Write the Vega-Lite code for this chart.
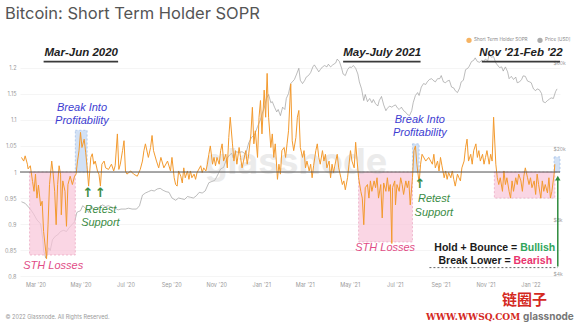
{
"$schema":"https://vega.github.io/schema/vega-lite/v6.json",
"width":540,"height":227,"autosize":"none",
"padding":{"left":20,"top":52,"right":25,"bottom":47},
"background":"white",
"title":{"text":"Bitcoin: Short Term Holder SOPR","anchor":"start","frame":"group","dx":-15,"offset":15,"fontSize":16.5,"font":"Inter","fontWeight":"normal","color":"#555555"},
"config":{"view":{"stroke":null},"font":"Inter"},
"datasets":{
"sopr":[
{"t":"2020-02-11","v":1.028},{"t":"2020-02-14","v":1.021},{"t":"2020-02-16","v":1.031},{"t":"2020-02-19","v":1.015},{"t":"2020-02-20","v":1.006},{"t":"2020-02-23","v":1.012},{"t":"2020-02-26","v":0.982},{"t":"2020-02-28","v":0.963},{"t":"2020-03-01","v":0.996},{"t":"2020-03-03","v":0.95},{"t":"2020-03-05","v":0.975},{"t":"2020-03-08","v":0.935},{"t":"2020-03-10","v":0.944},{"t":"2020-03-12","v":0.886},{"t":"2020-03-15","v":0.847},{"t":"2020-03-16","v":0.834},{"t":"2020-03-18","v":0.899},{"t":"2020-03-20","v":0.976},{"t":"2020-03-23","v":1.021},{"t":"2020-03-25","v":0.996},{"t":"2020-03-27","v":0.963},{"t":"2020-03-29","v":0.899},{"t":"2020-03-31","v":0.976},{"t":"2020-04-02","v":1.012},{"t":"2020-04-04","v":0.996},{"t":"2020-04-05","v":0.918},{"t":"2020-04-07","v":0.983},{"t":"2020-04-10","v":0.963},{"t":"2020-04-12","v":0.896},{"t":"2020-04-14","v":0.976},{"t":"2020-04-17","v":0.992},{"t":"2020-04-20","v":0.976},{"t":"2020-04-23","v":0.992},{"t":"2020-04-25","v":0.996},{"t":"2020-04-27","v":1.021},{"t":"2020-04-29","v":1.041},{"t":"2020-05-01","v":1.076},{"t":"2020-05-03","v":1.047},{"t":"2020-05-06","v":1.063},{"t":"2020-05-08","v":1.038},{"t":"2020-05-10","v":1.009},{"t":"2020-05-12","v":0.973},{"t":"2020-05-15","v":1.028},{"t":"2020-05-17","v":1.035},{"t":"2020-05-19","v":1.015},{"t":"2020-05-21","v":1.021},{"t":"2020-05-24","v":1.002},{"t":"2020-05-26","v":0.996},{"t":"2020-05-28","v":0.973},{"t":"2020-05-30","v":1.015},{"t":"2020-06-02","v":1.021},{"t":"2020-06-04","v":1.008},{"t":"2020-06-08","v":1.005},{"t":"2020-06-12","v":1.015},{"t":"2020-06-15","v":1.002},{"t":"2020-06-17","v":1.012},{"t":"2020-06-20","v":1.073},{"t":"2020-06-22","v":1.005},{"t":"2020-06-24","v":1.015},{"t":"2020-06-27","v":1.041},{"t":"2020-06-29","v":1.06},{"t":"2020-07-01","v":1.002},{"t":"2020-07-03","v":0.996},{"t":"2020-07-08","v":1.002},{"t":"2020-07-12","v":0.996},{"t":"2020-07-17","v":0.992},{"t":"2020-07-21","v":1.005},{"t":"2020-07-24","v":1.021},{"t":"2020-07-26","v":1.041},{"t":"2020-07-28","v":1.054},{"t":"2020-08-01","v":1.028},{"t":"2020-08-04","v":1.047},{"t":"2020-08-06","v":1.07},{"t":"2020-08-08","v":1.041},{"t":"2020-08-12","v":1.021},{"t":"2020-08-15","v":1.008},{"t":"2020-08-18","v":1.028},{"t":"2020-08-22","v":1.008},{"t":"2020-08-27","v":1.021},{"t":"2020-08-31","v":1.002},{"t":"2020-09-02","v":1.028},{"t":"2020-09-05","v":0.989},{"t":"2020-09-07","v":0.976},{"t":"2020-09-09","v":0.973},{"t":"2020-09-11","v":1.002},{"t":"2020-09-14","v":0.992},{"t":"2020-09-16","v":0.979},{"t":"2020-09-18","v":1.008},{"t":"2020-09-20","v":0.989},{"t":"2020-09-23","v":1.002},{"t":"2020-09-25","v":0.986},{"t":"2020-09-27","v":1.002},{"t":"2020-09-29","v":0.989},{"t":"2020-10-02","v":0.996},{"t":"2020-10-04","v":0.986},{"t":"2020-10-06","v":0.999},{"t":"2020-10-11","v":1.012},{"t":"2020-10-13","v":0.999},{"t":"2020-10-15","v":1.008},{"t":"2020-10-18","v":1.002},{"t":"2020-10-20","v":1.015},{"t":"2020-10-22","v":1.034},{"t":"2020-10-24","v":1.05},{"t":"2020-10-27","v":1.015},{"t":"2020-10-29","v":1.028},{"t":"2020-10-31","v":1.012},{"t":"2020-11-02","v":1.028},{"t":"2020-11-05","v":1.015},{"t":"2020-11-07","v":1.041},{"t":"2020-11-09","v":1.054},{"t":"2020-11-11","v":1.021},{"t":"2020-11-14","v":1.034},{"t":"2020-11-16","v":1.008},{"t":"2020-11-18","v":1.066},{"t":"2020-11-20","v":1.105},{"t":"2020-11-23","v":1.054},{"t":"2020-11-25","v":1.021},{"t":"2020-11-27","v":1.041},{"t":"2020-11-29","v":1.015},{"t":"2020-12-02","v":1.047},{"t":"2020-12-04","v":1.028},{"t":"2020-12-06","v":1.008},{"t":"2020-12-08","v":1.021},{"t":"2020-12-11","v":1.041},{"t":"2020-12-13","v":1.015},{"t":"2020-12-15","v":1.034},{"t":"2020-12-18","v":1.073},{"t":"2020-12-20","v":1.124},{"t":"2020-12-22","v":1.054},{"t":"2020-12-24","v":1.079},{"t":"2020-12-27","v":1.028},{"t":"2020-12-29","v":1.105},{"t":"2020-12-31","v":1.137},{"t":"2021-01-02","v":1.073},{"t":"2021-01-05","v":1.157},{"t":"2021-01-07","v":1.105},{"t":"2021-01-09","v":1.189},{"t":"2021-01-11","v":1.105},{"t":"2021-01-14","v":1.047},{"t":"2021-01-16","v":1.073},{"t":"2021-01-18","v":1.028},{"t":"2021-01-20","v":1.054},{"t":"2021-01-23","v":0.986},{"t":"2021-01-25","v":1.015},{"t":"2021-01-27","v":0.996},{"t":"2021-01-29","v":1.041},{"t":"2021-02-01","v":1.047},{"t":"2021-02-03","v":1.028},{"t":"2021-02-05","v":1.054},{"t":"2021-02-07","v":1.079},{"t":"2021-02-10","v":1.169},{"t":"2021-02-12","v":1.06},{"t":"2021-02-14","v":1.041},{"t":"2021-02-17","v":1.066},{"t":"2021-02-19","v":1.105},{"t":"2021-02-21","v":1.118},{"t":"2021-02-23","v":1.047},{"t":"2021-02-26","v":1.028},{"t":"2021-02-28","v":1.041},{"t":"2021-03-02","v":1.008},{"t":"2021-03-04","v":1.021},{"t":"2021-03-07","v":1.002},{"t":"2021-03-09","v":1.015},{"t":"2021-03-11","v":0.989},{"t":"2021-03-13","v":1.012},{"t":"2021-03-16","v":1.041},{"t":"2021-03-18","v":1.054},{"t":"2021-03-20","v":1.028},{"t":"2021-03-22","v":1.015},{"t":"2021-03-25","v":1.041},{"t":"2021-03-27","v":1.021},{"t":"2021-03-29","v":1.034},{"t":"2021-03-31","v":1.008},{"t":"2021-04-03","v":1.021},{"t":"2021-04-05","v":0.989},{"t":"2021-04-07","v":1.015},{"t":"2021-04-09","v":0.999},{"t":"2021-04-12","v":1.021},{"t":"2021-04-14","v":1.034},{"t":"2021-04-16","v":1.008},{"t":"2021-04-19","v":0.989},{"t":"2021-04-21","v":0.976},{"t":"2021-04-23","v":0.983},{"t":"2021-04-25","v":0.966},{"t":"2021-04-28","v":0.989},{"t":"2021-04-30","v":1.015},{"t":"2021-05-02","v":1.041},{"t":"2021-05-04","v":1.021},{"t":"2021-05-07","v":1.008},{"t":"2021-05-09","v":1.057},{"t":"2021-05-11","v":1.021},{"t":"2021-05-13","v":0.989},{"t":"2021-05-16","v":0.963},{"t":"2021-05-18","v":0.95},{"t":"2021-05-20","v":0.899},{"t":"2021-05-22","v":0.97},{"t":"2021-05-25","v":0.976},{"t":"2021-05-27","v":0.95},{"t":"2021-05-29","v":0.983},{"t":"2021-05-31","v":0.963},{"t":"2021-06-03","v":0.983},{"t":"2021-06-05","v":0.97},{"t":"2021-06-07","v":0.989},{"t":"2021-06-09","v":0.95},{"t":"2021-06-12","v":0.976},{"t":"2021-06-14","v":0.912},{"t":"2021-06-16","v":0.979},{"t":"2021-06-19","v":0.963},{"t":"2021-06-21","v":0.989},{"t":"2021-06-23","v":0.963},{"t":"2021-06-25","v":0.976},{"t":"2021-06-27","v":0.863},{"t":"2021-06-28","v":0.97},{"t":"2021-07-01","v":0.983},{"t":"2021-07-02","v":0.937},{"t":"2021-07-04","v":0.976},{"t":"2021-07-07","v":0.963},{"t":"2021-07-09","v":0.989},{"t":"2021-07-11","v":0.976},{"t":"2021-07-13","v":0.957},{"t":"2021-07-16","v":0.983},{"t":"2021-07-18","v":0.97},{"t":"2021-07-20","v":0.983},{"t":"2021-07-22","v":0.937},{"t":"2021-07-25","v":0.989},{"t":"2021-07-27","v":1.041},{"t":"2021-07-29","v":1.05},{"t":"2021-07-31","v":1.015},{"t":"2021-08-03","v":0.979},{"t":"2021-08-05","v":1.015},{"t":"2021-08-07","v":1.034},{"t":"2021-08-12","v":1.021},{"t":"2021-08-16","v":1.028},{"t":"2021-08-21","v":1.015},{"t":"2021-08-23","v":1.034},{"t":"2021-08-25","v":1.008},{"t":"2021-08-28","v":1.021},{"t":"2021-08-30","v":1.002},{"t":"2021-09-01","v":1.028},{"t":"2021-09-03","v":1.012},{"t":"2021-09-06","v":0.989},{"t":"2021-09-08","v":1.002},{"t":"2021-09-10","v":0.986},{"t":"2021-09-12","v":0.999},{"t":"2021-09-15","v":0.989},{"t":"2021-09-17","v":1.002},{"t":"2021-09-19","v":0.986},{"t":"2021-09-21","v":0.973},{"t":"2021-09-24","v":0.996},{"t":"2021-09-26","v":0.989},{"t":"2021-09-28","v":0.983},{"t":"2021-09-30","v":1.008},{"t":"2021-10-03","v":1.021},{"t":"2021-10-05","v":1.047},{"t":"2021-10-07","v":1.063},{"t":"2021-10-09","v":1.021},{"t":"2021-10-12","v":1.034},{"t":"2021-10-14","v":1.015},{"t":"2021-10-16","v":1.041},{"t":"2021-10-19","v":1.054},{"t":"2021-10-21","v":1.028},{"t":"2021-10-23","v":1.041},{"t":"2021-10-25","v":1.021},{"t":"2021-10-28","v":1.034},{"t":"2021-10-30","v":1.015},{"t":"2021-11-01","v":1.028},{"t":"2021-11-03","v":1.041},{"t":"2021-11-06","v":1.015},{"t":"2021-11-08","v":1.034},{"t":"2021-11-10","v":1.021},{"t":"2021-11-12","v":1.105},{"t":"2021-11-15","v":1.015},{"t":"2021-11-17","v":0.989},{"t":"2021-11-19","v":0.976},{"t":"2021-11-21","v":0.989},{"t":"2021-11-24","v":0.963},{"t":"2021-11-26","v":1.002},{"t":"2021-11-28","v":0.976},{"t":"2021-11-30","v":0.989},{"t":"2021-12-03","v":0.963},{"t":"2021-12-05","v":0.95},{"t":"2021-12-07","v":0.983},{"t":"2021-12-09","v":0.963},{"t":"2021-12-12","v":0.989},{"t":"2021-12-14","v":0.976},{"t":"2021-12-16","v":0.996},{"t":"2021-12-19","v":0.983},{"t":"2021-12-21","v":0.963},{"t":"2021-12-23","v":0.992},{"t":"2021-12-25","v":1.008},{"t":"2021-12-28","v":0.989},{"t":"2021-12-30","v":0.976},{"t":"2022-01-01","v":0.989},{"t":"2022-01-03","v":0.97},{"t":"2022-01-06","v":0.983},{"t":"2022-01-08","v":0.957},{"t":"2022-01-10","v":0.996},{"t":"2022-01-12","v":0.976},{"t":"2022-01-15","v":0.95},{"t":"2022-01-17","v":0.983},{"t":"2022-01-19","v":0.963},{"t":"2022-01-21","v":0.976},{"t":"2022-01-24","v":0.96},{"t":"2022-01-26","v":0.989},{"t":"2022-01-28","v":0.95},{"t":"2022-01-30","v":0.963},{"t":"2022-02-02","v":0.996},{"t":"2022-02-03","v":1.015}
],
"price":[
{"t":"2020-02-11","p":10100},{"t":"2020-02-16","p":9900},{"t":"2020-02-23","p":9200},{"t":"2020-02-27","p":8700},{"t":"2020-03-03","p":8000},{"t":"2020-03-08","p":7600},{"t":"2020-03-11","p":6200},{"t":"2020-03-12","p":5400},{"t":"2020-03-15","p":4900},{"t":"2020-03-19","p":5600},{"t":"2020-03-21","p":5400},{"t":"2020-03-24","p":6200},{"t":"2020-03-28","p":6500},{"t":"2020-03-31","p":6600},{"t":"2020-04-04","p":6900},{"t":"2020-04-08","p":7000},{"t":"2020-04-12","p":6900},{"t":"2020-04-15","p":7200},{"t":"2020-04-19","p":7500},{"t":"2020-04-23","p":7800},{"t":"2020-04-26","p":8800},{"t":"2020-04-28","p":8900},{"t":"2020-05-01","p":9000},{"t":"2020-05-04","p":9600},{"t":"2020-05-08","p":9300},{"t":"2020-05-12","p":8800},{"t":"2020-05-15","p":9500},{"t":"2020-05-19","p":9200},{"t":"2020-05-23","p":9100},{"t":"2020-05-27","p":9500},{"t":"2020-05-31","p":9700},{"t":"2020-06-04","p":9500},{"t":"2020-06-08","p":9600},{"t":"2020-06-13","p":9400},{"t":"2020-06-17","p":9300},{"t":"2020-06-21","p":9100},{"t":"2020-06-25","p":9200},{"t":"2020-07-01","p":9200},{"t":"2020-07-05","p":9300},{"t":"2020-07-10","p":9200},{"t":"2020-07-16","p":9200},{"t":"2020-07-20","p":9600},{"t":"2020-07-24","p":11000},{"t":"2020-07-28","p":11300},{"t":"2020-08-01","p":11500},{"t":"2020-08-05","p":11700},{"t":"2020-08-09","p":11600},{"t":"2020-08-13","p":11900},{"t":"2020-08-17","p":12000},{"t":"2020-08-21","p":11700},{"t":"2020-08-25","p":11500},{"t":"2020-08-29","p":11400},{"t":"2020-09-02","p":10600},{"t":"2020-09-07","p":10300},{"t":"2020-09-11","p":10600},{"t":"2020-09-15","p":10500},{"t":"2020-09-19","p":10400},{"t":"2020-09-23","p":10800},{"t":"2020-09-27","p":10700},{"t":"2020-10-01","p":10600},{"t":"2020-10-05","p":10900},{"t":"2020-10-09","p":11400},{"t":"2020-10-13","p":11300},{"t":"2020-10-17","p":11600},{"t":"2020-10-22","p":12900},{"t":"2020-10-26","p":13100},{"t":"2020-10-30","p":13300},{"t":"2020-11-02","p":14000},{"t":"2020-11-07","p":15400},{"t":"2020-11-11","p":15700},{"t":"2020-11-15","p":17500},{"t":"2020-11-19","p":18400},{"t":"2020-11-22","p":18800},{"t":"2020-11-24","p":17700},{"t":"2020-11-28","p":19200},{"t":"2020-12-02","p":19000},{"t":"2020-12-06","p":19200},{"t":"2020-12-11","p":18600},{"t":"2020-12-15","p":21500},{"t":"2020-12-19","p":23100},{"t":"2020-12-23","p":23800},{"t":"2020-12-27","p":26500},{"t":"2020-12-31","p":29000},{"t":"2021-01-03","p":32000},{"t":"2021-01-05","p":33500},{"t":"2021-01-08","p":38000},{"t":"2021-01-11","p":40000},{"t":"2021-01-14","p":36000},{"t":"2021-01-16","p":36500},{"t":"2021-01-19","p":34000},{"t":"2021-01-22","p":32000},{"t":"2021-01-24","p":33000},{"t":"2021-01-27","p":30500},{"t":"2021-01-30","p":34000},{"t":"2021-02-02","p":33000},{"t":"2021-02-04","p":38000},{"t":"2021-02-07","p":40500},{"t":"2021-02-10","p":46000},{"t":"2021-02-12","p":47000},{"t":"2021-02-15","p":48500},{"t":"2021-02-18","p":52000},{"t":"2021-02-21","p":56000},{"t":"2021-02-23","p":48000},{"t":"2021-02-26","p":46000},{"t":"2021-03-01","p":48000},{"t":"2021-03-03","p":50000},{"t":"2021-03-06","p":51000},{"t":"2021-03-09","p":53000},{"t":"2021-03-12","p":57000},{"t":"2021-03-14","p":58500},{"t":"2021-03-17","p":56000},{"t":"2021-03-20","p":53500},{"t":"2021-03-22","p":55000},{"t":"2021-03-25","p":57000},{"t":"2021-03-28","p":58000},{"t":"2021-03-31","p":57000},{"t":"2021-04-02","p":59000},{"t":"2021-04-05","p":57000},{"t":"2021-04-08","p":58500},{"t":"2021-04-12","p":60000},{"t":"2021-04-14","p":63000},{"t":"2021-04-17","p":61000},{"t":"2021-04-20","p":56000},{"t":"2021-04-22","p":52000},{"t":"2021-04-25","p":51000},{"t":"2021-04-28","p":55000},{"t":"2021-05-01","p":57000},{"t":"2021-05-03","p":56500},{"t":"2021-05-06","p":58000},{"t":"2021-05-09","p":56000},{"t":"2021-05-12","p":52000},{"t":"2021-05-14","p":47000},{"t":"2021-05-17","p":43000},{"t":"2021-05-20","p":37000},{"t":"2021-05-22","p":40000},{"t":"2021-05-25","p":36500},{"t":"2021-05-28","p":38000},{"t":"2021-05-31","p":36000},{"t":"2021-06-02","p":37500},{"t":"2021-06-05","p":35500},{"t":"2021-06-08","p":34500},{"t":"2021-06-10","p":37000},{"t":"2021-06-13","p":39000},{"t":"2021-06-16","p":35000},{"t":"2021-06-19","p":32500},{"t":"2021-06-21","p":33500},{"t":"2021-06-24","p":34500},{"t":"2021-06-27","p":34000},{"t":"2021-06-29","p":34500},{"t":"2021-07-02","p":35000},{"t":"2021-07-05","p":33500},{"t":"2021-07-07","p":33000},{"t":"2021-07-10","p":34000},{"t":"2021-07-13","p":32500},{"t":"2021-07-16","p":31800},{"t":"2021-07-18","p":31000},{"t":"2021-07-21","p":30500},{"t":"2021-07-24","p":32500},{"t":"2021-07-26","p":36000},{"t":"2021-07-29","p":39500},{"t":"2021-08-01","p":41000},{"t":"2021-08-03","p":39500},{"t":"2021-08-06","p":44000},{"t":"2021-08-09","p":46000},{"t":"2021-08-12","p":45500},{"t":"2021-08-14","p":47000},{"t":"2021-08-17","p":48500},{"t":"2021-08-20","p":49000},{"t":"2021-08-22","p":48000},{"t":"2021-08-25","p":47000},{"t":"2021-08-28","p":49000},{"t":"2021-08-31","p":49000},{"t":"2021-09-02","p":51000},{"t":"2021-09-05","p":47000},{"t":"2021-09-08","p":46500},{"t":"2021-09-10","p":47500},{"t":"2021-09-13","p":48000},{"t":"2021-09-16","p":44000},{"t":"2021-09-19","p":43500},{"t":"2021-09-21","p":42000},{"t":"2021-09-24","p":41000},{"t":"2021-09-27","p":43500},{"t":"2021-09-29","p":47000},{"t":"2021-10-02","p":48000},{"t":"2021-10-05","p":55000},{"t":"2021-10-08","p":56000},{"t":"2021-10-10","p":57500},{"t":"2021-10-13","p":61000},{"t":"2021-10-16","p":62000},{"t":"2021-10-18","p":64000},{"t":"2021-10-21","p":61000},{"t":"2021-10-24","p":60500},{"t":"2021-10-27","p":62000},{"t":"2021-10-29","p":61000},{"t":"2021-11-01","p":63000},{"t":"2021-11-04","p":61500},{"t":"2021-11-06","p":67000},{"t":"2021-11-09","p":64500},{"t":"2021-11-12","p":65000},{"t":"2021-11-15","p":60000},{"t":"2021-11-17","p":58500},{"t":"2021-11-20","p":56500},{"t":"2021-11-23","p":57000},{"t":"2021-11-25","p":54000},{"t":"2021-11-28","p":57000},{"t":"2021-12-01","p":53500},{"t":"2021-12-03","p":49000},{"t":"2021-12-06","p":50500},{"t":"2021-12-09","p":48500},{"t":"2021-12-12","p":50000},{"t":"2021-12-14","p":46500},{"t":"2021-12-17","p":47000},{"t":"2021-12-20","p":48500},{"t":"2021-12-22","p":50800},{"t":"2021-12-25","p":50500},{"t":"2021-12-28","p":47500},{"t":"2021-12-31","p":47000},{"t":"2022-01-02","p":46500},{"t":"2022-01-05","p":43000},{"t":"2022-01-08","p":42000},{"t":"2022-01-10","p":43000},{"t":"2022-01-13","p":42500},{"t":"2022-01-16","p":40500},{"t":"2022-01-18","p":36500},{"t":"2022-01-21","p":36000},{"t":"2022-01-24","p":37000},{"t":"2022-01-27","p":37800},{"t":"2022-01-29","p":38300},{"t":"2022-02-01","p":38000},{"t":"2022-02-04","p":41500},{"t":"2022-02-06","p":43000}
],
"zones":[
{"k":"loss","t":"2020-02-22","t2":"2020-04-24","v":0.841,"v2":1.0},
{"k":"loss","t":"2021-05-13","t2":"2021-07-25","v":0.866,"v2":1.0},
{"k":"loss","t":"2021-11-13","t2":"2022-02-03","v":0.95,"v2":1.0},
{"k":"gain","t":"2020-04-24","t2":"2020-05-10","v":1.0,"v2":1.08},
{"k":"gain","t":"2021-07-25","t2":"2021-08-03","v":1.0,"v2":1.054},
{"k":"gain","t":"2022-02-02","t2":"2022-02-10","v":1.0,"v2":1.029}
]
},
"encoding":{"x":{"field":"t","type":"temporal",
 "scale":{"type":"utc","domain":[{"year":2020,"month":2,"date":9,"utc":true},{"year":2022,"month":2,"date":10,"utc":true}]},
 "axis":{"values":[{"year":2020,"month":3,"date":1,"utc":true},{"year":2020,"month":5,"date":1,"utc":true},{"year":2020,"month":7,"date":1,"utc":true},{"year":2020,"month":9,"date":1,"utc":true},{"year":2020,"month":11,"date":1,"utc":true},{"year":2021,"month":1,"date":1,"utc":true},{"year":2021,"month":3,"date":1,"utc":true},{"year":2021,"month":5,"date":1,"utc":true},{"year":2021,"month":7,"date":1,"utc":true},{"year":2021,"month":9,"date":1,"utc":true},{"year":2021,"month":11,"date":1,"utc":true},{"year":2022,"month":1,"date":1,"utc":true}],
  "format":"%b '%y","labelFontSize":5.5,"labelColor":"#9a9a9a","labelPadding":3,"ticks":false,"domain":false,"grid":false,
  "title":"© 2022 Glassnode. All Rights Reserved.","titleX":-15,"titleY":37,"titleAlign":"left","titleBaseline":"middle","titleFontSize":5.5,"titleFontWeight":"normal","titleColor":"#9a9a9a"}}},
"layer":[
{"data":{"name":"price"},
 "mark":{"type":"line","strokeWidth":0.8,"opacity":0.75},
 "encoding":{
  "y":{"field":"p","type":"quantitative","scale":{"type":"log","domain":[3750,69000]},
   "axis":{"orient":"right","offset":-7,"values":[4000,8000,20000,60000],"labelExpr":"'$' + (datum.value/1000) + 'k'","labelFontSize":5,"labelColor":"#9a9a9a","labelPadding":0,"ticks":false,"domain":false,"grid":false,"title":null}},
  "color":{"datum":"Price [USD]","scale":{"domain":["Short Term Holder SOPR","Price [USD]"],"range":["#f39a2e","#8f8f8f"]},
   "legend":{"orient":"none","legendX":446,"legendY":-15,"direction":"horizontal","title":null,"labelFontSize":4.6,"labelColor":"#8a8a8a","symbolType":"circle","symbolSize":8,"symbolStrokeWidth":2.5,"columnPadding":5,"labelOffset":2}}}},
{"encoding":{"y":{"field":"v","type":"quantitative","scale":{"domain":[0.795,1.23],"zero":false,"nice":false},
  "axis":{"orient":"left","values":[0.8,0.85,0.9,0.95,1,1.05,1.1,1.15,1.2],"format":"~g","labelFontSize":5.5,"labelColor":"#9a9a9a","grid":true,"gridColor":"#eeeeee","gridWidth":0.6,"ticks":false,"domain":false,"title":null,"labelPadding":4}}},
 "layer":[
  {"data":{"name":"zones"},"transform":[{"filter":"datum.k == 'loss'"}],
   "mark":{"type":"rect","fill":"#f8c4d8","fillOpacity":0.7,"stroke":"#eaa2bf","strokeDash":[2,2],"strokeWidth":0.7},
   "encoding":{"x2":{"field":"t2"},"y2":{"field":"v2"}}},
  {"data":{"name":"zones"},"transform":[{"filter":"datum.k == 'gain'"}],
   "mark":{"type":"rect","fill":"#c7d9f3","fillOpacity":0.8,"stroke":"#9fbde6","strokeDash":[2,2],"strokeWidth":0.7},
   "encoding":{"x2":{"field":"t2"},"y2":{"field":"v2"}}},
  {"data":{"values":[{"t":"2021-02-17","v":1.017,"label":"glassnode"}]},
   "mark":{"type":"text","fontSize":36,"font":"Inter","fontWeight":"bold","color":"#c8c8c8","opacity":0.35,"baseline":"middle"},
   "encoding":{"text":{"field":"label"}}},
  {"data":{"name":"sopr"},"mark":{"type":"line","strokeWidth":1},
   "encoding":{"color":{"datum":"Short Term Holder SOPR"}}},
  {"data":{"values":[{"t":"2020-02-09","v":1.0},{"t":"2022-02-10","v":1.0}]},
   "mark":{"type":"line","color":"#555555","strokeWidth":1.1},"encoding":{}},
  {"data":{"values":[{"g":1,"t":"2020-03-12","v":1.2115},{"g":1,"t":"2020-06-21","v":1.2115},{"g":2,"t":"2021-04-22","v":1.2115},{"g":2,"t":"2021-08-05","v":1.2115},{"g":3,"t":"2021-10-27","v":1.2115},{"g":3,"t":"2022-02-10","v":1.2115}]},
   "mark":{"type":"line","color":"#3a3a3a","strokeWidth":1.8},"encoding":{"detail":{"field":"g","type":"nominal"}}},
  {"data":{"values":[{"t":"2021-08-17","v":0.8168},{"t":"2022-02-07","v":0.8168}]},
   "mark":{"type":"line","color":"#666666","strokeWidth":1,"strokeDash":[2,2]},"encoding":{}},
  {"data":{"values":[{"t":"2022-02-07","v":0.8188},{"t":"2022-02-07","v":0.988}]},
   "mark":{"type":"line","color":"#2e8b3e","strokeWidth":1.5},"encoding":{}},
  {"data":{"values":[{"t":"2022-02-07","v":0.9885}]},
   "mark":{"type":"point","shape":"triangle-up","size":30,"filled":true,"color":"#2e8b3e","opacity":1}},
  {"data":{"values":[{"t":"2020-05-02","v":1.2278,"label":"Mar-Jun 2020"},{"t":"2021-06-14","v":1.2278,"label":"May-July 2021"},{"t":"2021-12-19","v":1.2278,"label":"Nov '21-Feb '22"}]},
   "mark":{"type":"text","font":"Liberation Sans","fontSize":11.5,"fontWeight":"bold","fontStyle":"italic","color":"#222222","baseline":"middle"},
   "encoding":{"text":{"field":"label"}}},
  {"data":{"values":[{"t":"2020-05-03","v":1.1234,"label":"Break Into"},{"t":"2020-05-03","v":1.0976,"label":"Profitability"},{"t":"2021-08-04","v":1.0995,"label":"Break Into"},{"t":"2021-08-04","v":1.0756,"label":"Profitability"}]},
   "mark":{"type":"text","font":"Liberation Sans","fontSize":11,"fontStyle":"italic","color":"#3d3dd1","baseline":"middle"},
   "encoding":{"text":{"field":"label"}}},
  {"data":{"values":[{"t":"2020-05-28","v":0.9273,"label":"Retest"},{"t":"2020-05-28","v":0.9024,"label":"Support"},{"t":"2021-08-23","v":0.9485,"label":"Retest"},{"t":"2021-08-23","v":0.9220,"label":"Support"}]},
   "mark":{"type":"text","font":"Liberation Sans","fontSize":11,"fontStyle":"italic","color":"#3b8c45","baseline":"middle"},
   "encoding":{"text":{"field":"label"}}},
  {"data":{"values":[{"t":"2020-05-11","v":0.9589,"label":"↑"},{"t":"2020-05-28","v":0.9589,"label":"↑"},{"t":"2021-08-04","v":0.9775,"label":"↑"}]},
   "mark":{"type":"text","font":"DejaVu Sans","fontSize":13,"fontWeight":"bold","color":"#3b8c45","baseline":"middle"},
   "encoding":{"text":{"field":"label"}}},
  {"data":{"values":[{"t":"2020-03-25","v":0.82,"label":"STH Losses"},{"t":"2021-06-18","v":0.8545,"label":"STH Losses"}]},
   "mark":{"type":"text","font":"Liberation Sans","fontSize":11,"fontStyle":"italic","color":"#e14c86","baseline":"middle"},
   "encoding":{"text":{"field":"label"}}},
  {"data":{"values":[{"t":"2021-12-14","v":0.8545,"label":"Hold + Bounce ="},{"t":"2021-12-05","v":0.8297,"label":"Break Lower ="}]},
   "mark":{"type":"text","font":"Liberation Sans","fontSize":10.5,"fontWeight":"bold","color":"#1a1a1a","align":"right","baseline":"middle"},
   "encoding":{"text":{"field":"label"}}},
  {"data":{"values":[{"t":"2021-12-18","v":0.8545,"label":"Bullish"}]},
   "mark":{"type":"text","font":"Liberation Sans","fontSize":10.5,"fontWeight":"bold","color":"#2fa55b","align":"left","baseline":"middle"},
   "encoding":{"text":{"field":"label"}}},
  {"data":{"values":[{"t":"2021-12-09","v":0.8297,"label":"Bearish"}]},
   "mark":{"type":"text","font":"Liberation Sans","fontSize":10.5,"fontWeight":"bold","color":"#e8336e","align":"left","baseline":"middle"},
   "encoding":{"text":{"field":"label"}}},
  {"data":{"values":[{"t":"2021-12-24","v":0.7555,"label":"链圈子"}]},
   "mark":{"type":"text","font":"Noto Sans CJK SC","fontSize":15,"fontWeight":"bold","color":"#d42a1f","baseline":"middle"},
   "encoding":{"text":{"field":"label"}}},
  {"data":{"values":[{"t":"2021-12-18","v":0.7225,"label":"WWW.WWSQ.COM"}]},
   "mark":{"type":"text","font":"DejaVu Serif","fontSize":9,"fontWeight":"bold","color":"#d42a1f","align":"right","baseline":"middle"},
   "encoding":{"text":{"field":"label"}}},
  {"data":{"values":[{"t":"2021-12-22","v":0.7225,"label":"glassnode"}]},
   "mark":{"type":"text","font":"Inter","fontSize":10,"fontWeight":"bold","color":"#555555","opacity":0.8,"align":"left","baseline":"middle"},
   "encoding":{"text":{"field":"label"}}}
 ]}
],
"resolve":{"scale":{"y":"independent"}}
}
